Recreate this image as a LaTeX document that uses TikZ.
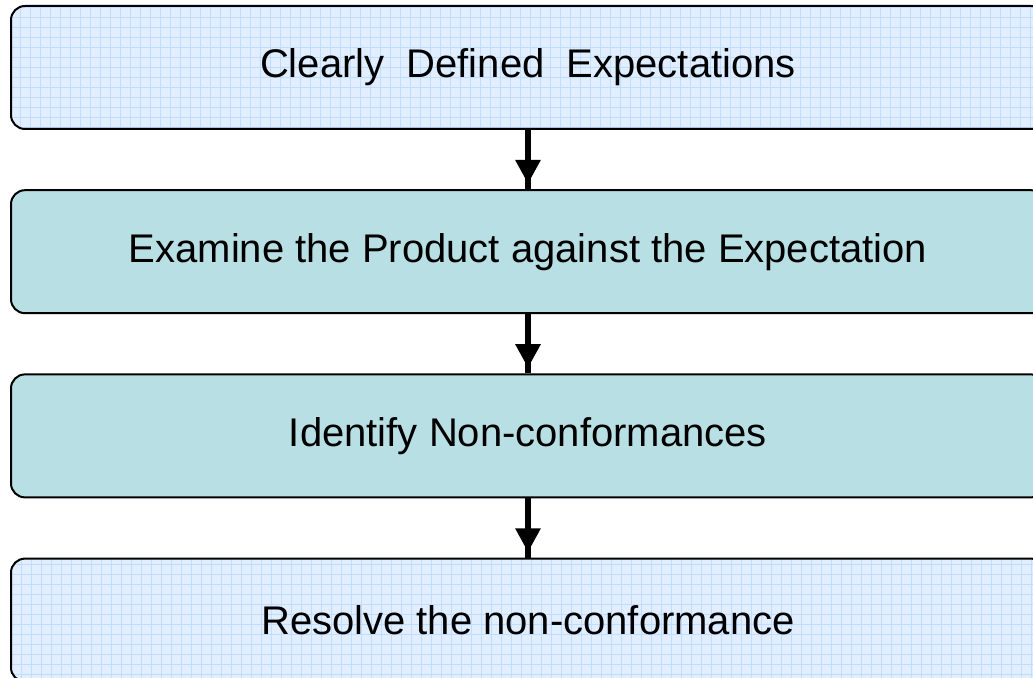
\documentclass[tikz,border=0pt]{standalone}
\usepackage{fontspec}
\setmainfont{Liberation Sans}
\usetikzlibrary{positioning}
\usetikzlibrary{arrows.meta}
\definecolor{tealfill}{RGB}{184,224,228}
\definecolor{gridback}{RGB}{224,238,255}
\definecolor{gridline}{RGB}{192,220,255}

\begin{document}
\begin{tikzpicture}[
stepnode/.style={rectangle, rounded corners=10.5pt, draw=black, line width=1.5pt, minimum width=775.5pt, minimum height=92.25pt, font=\fontsize{30}{36}\selectfont},
solidnode/.style={stepnode, fill=tealfill},
gridnode/.style={stepnode, path picture={
    \fill[gridback] (path picture bounding box.south west) rectangle (path picture bounding box.north east);
    \draw[gridline, line width=0.75pt] (path picture bounding box.south west) grid[step=7.5pt] (path picture bounding box.north east);
}},
flowline/.style={line width=5pt, postaction={draw, -{Triangle[width=18pt,length=18pt]}, shorten >=4pt}},
]
\useasboundingbox (0,0) rectangle (774.75pt,508.5pt);
\clip (0,0) rectangle (774.75pt,508.5pt);
%Nodes
\node[gridnode]  (expectations) at (396pt,457.875pt) {Clearly\ \ Defined\ \ Expectations};
\node[solidnode] (examine)      [below=44.4pt of expectations] {Examine the Product against the Expectation};
\node[solidnode] (identify)     [below=44.4pt of examine] {Identify Non-conformances};
\node[gridnode]  (resolve)      [below=44.4pt of identify] {Resolve the non-conformance};

%Lines
\draw[flowline] (expectations.south) -- (examine.north);
\draw[flowline] (examine.south) -- (identify.north);
\draw[flowline] (identify.south) -- (resolve.north);

\end{tikzpicture}
\end{document}
